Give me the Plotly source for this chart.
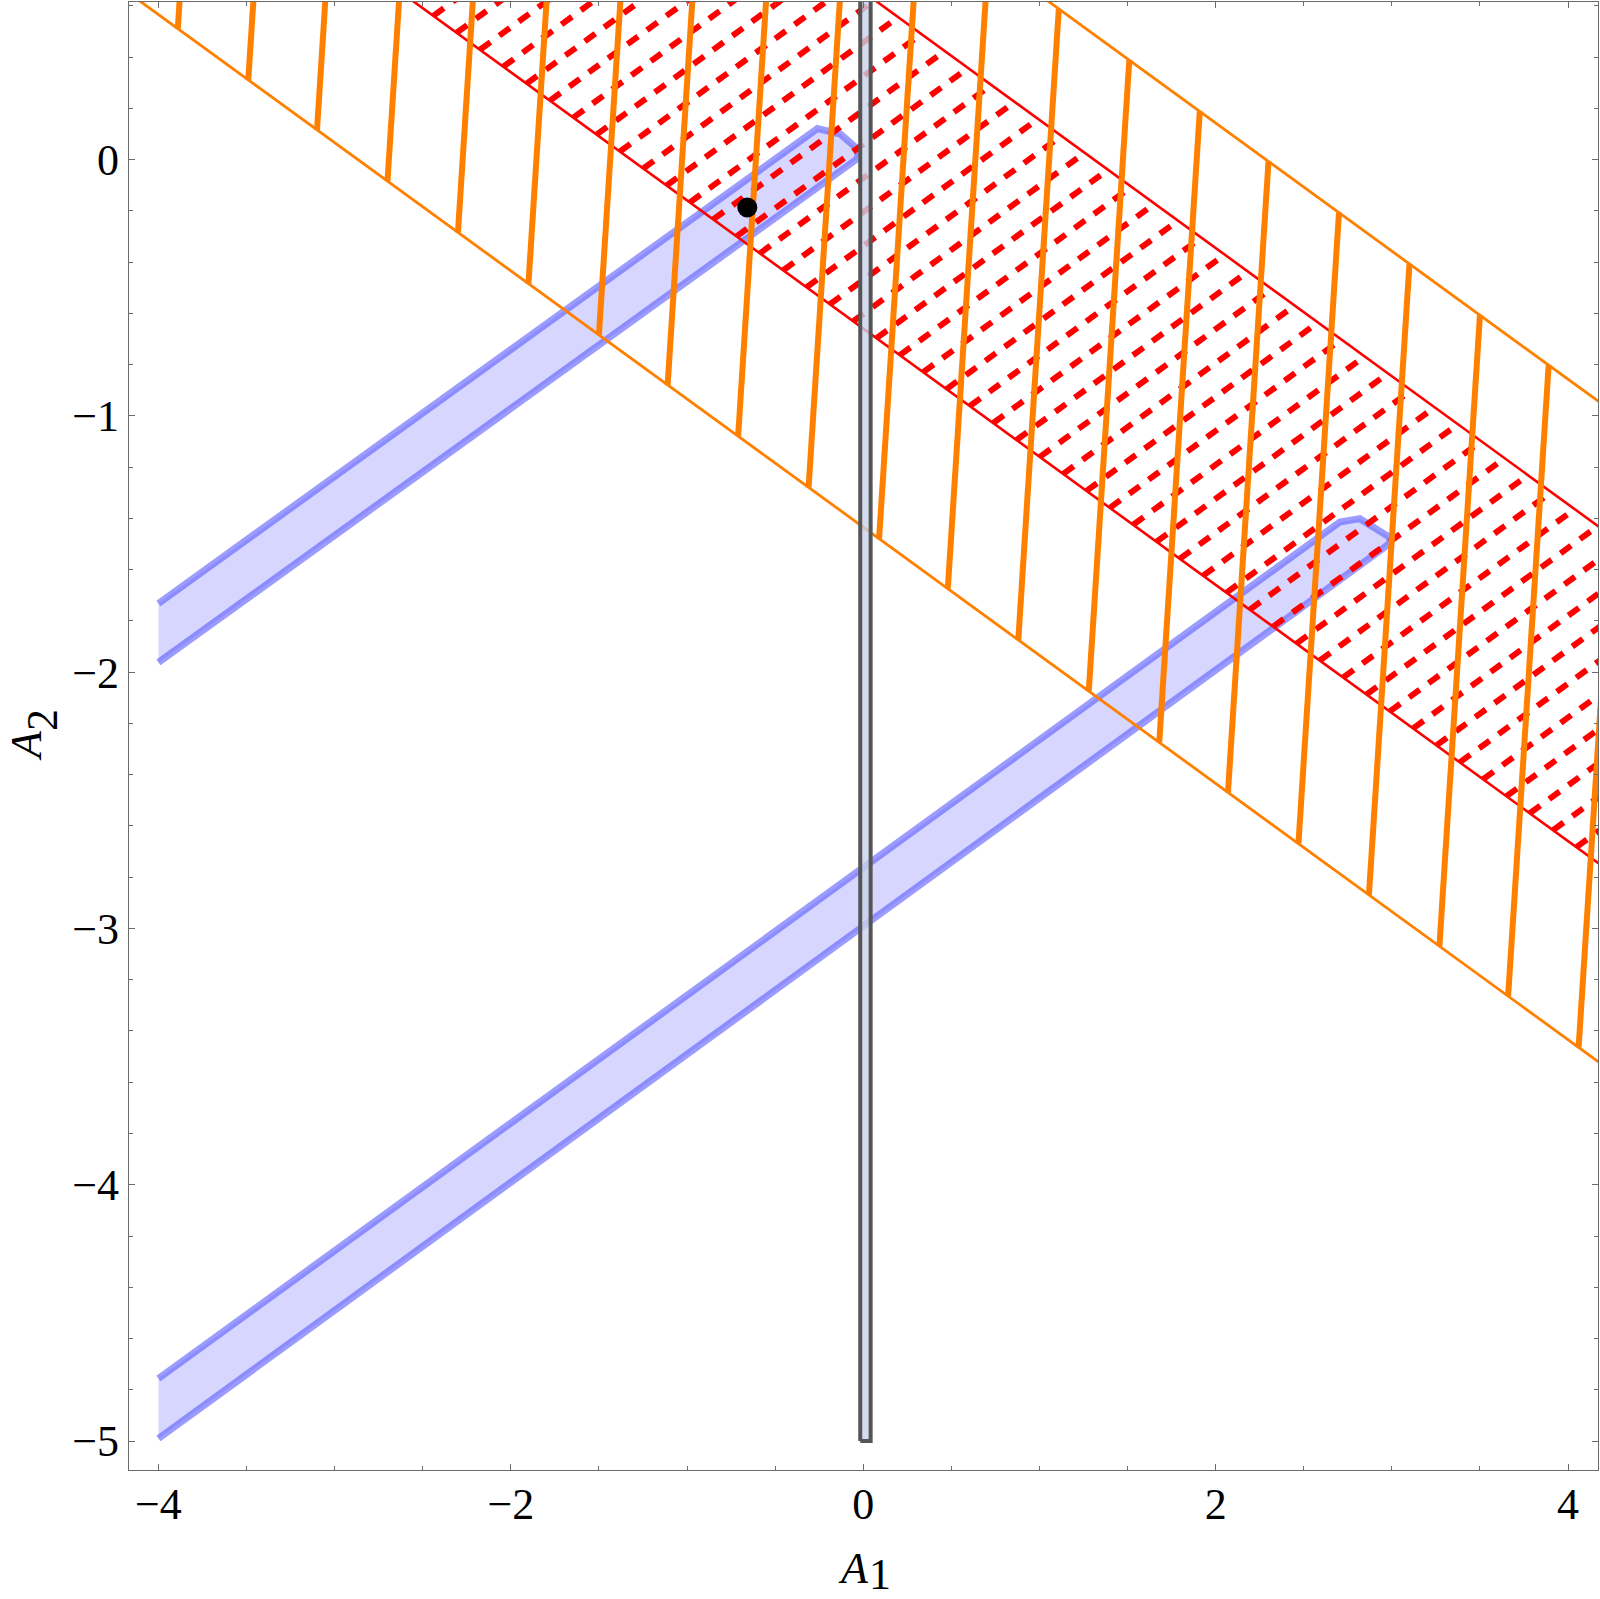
import numpy as np
import plotly.graph_objects as go

# plot window (A1 horizontal, A2 vertical)
a1_range = [-4.167, 4.170]
a2_range = [-5.113, 0.615]

# orange strip: edges are A2 = c + slope*A1
orange_slope = -0.5
orange_edge_c = [-1.434, 1.143]
# A1 where each orange hatch stroke leaves the lower edge, and how far it leans right
orange_hatch_a1 = [-3.89, -3.49, -3.10, -2.70, -2.30, -1.90, -1.50, -1.11,
                   -0.71, -0.31, 0.09, 0.48, 0.88, 1.28, 1.68, 2.07, 2.47,
                   2.87, 3.27, 3.66, 4.06]
orange_hatch_lean = 0.23

# red strip
red_slope = -0.5
red_edge_c = [-0.659, 0.655]
red_hatch_slope = 0.5
red_hatch_first = 1.929   # one hatch line meets the lower red edge here
red_hatch_step = 0.1324

# blue bands, outline
upper_band_a1 = [-4.0, -0.26, -0.13, -0.03, -0.03, -4.0]
upper_band_a2 = [-1.732, 0.121, 0.100, 0.040, 0.005, -1.962]
lower_band_a1 = [-4.0, 2.705, 2.818, 2.988, 2.988, 2.95, -4.0]
lower_band_a2 = [-4.756, -1.414, -1.401, -1.474, -1.497, -1.517, -4.990]

# grey strip along A1 = 0
bar_a1 = [-0.017, 0.042]
bar_a2 = [-5.0, 1.0]

# marked point
point_a1 = [-0.658]
point_a2 = [-0.187]

FONT = "Liberation Serif"
ORANGE = "rgb(255,128,0)"
RED = "rgb(255,0,0)"
FRAME = "#6b6b6b"
SIZE = 44


def edge(c, slope, a1):
    return c + slope * a1


fig = go.Figure()

# blue bands
for bx, by in [(upper_band_a1, upper_band_a2), (lower_band_a1, lower_band_a2)]:
    fig.add_trace(go.Scatter(x=bx + [bx[0]], y=by + [by[0]], mode="lines",
                             fill="toself", fillcolor="rgb(214,214,255)",
                             line=dict(width=0), hoverinfo="skip"))
    fig.add_trace(go.Scatter(x=bx, y=by, mode="lines",
                             line=dict(color="rgba(90,90,255,0.6)", width=7),
                             hoverinfo="skip"))

# red strip: dashed hatching, then the two edges
far = [-6, 6]
hx, hy = [], []
for k in np.arange(-36, 19):
    a = red_hatch_first + red_hatch_step * k
    y0 = edge(red_edge_c[0], red_slope, a)
    a_end = (red_edge_c[1] - y0 + red_hatch_slope * a) / (red_hatch_slope - red_slope)
    hx += [a, a_end, None]
    hy += [y0, edge(red_edge_c[1], red_slope, a_end), None]
fig.add_trace(go.Scatter(x=hx, y=hy, mode="lines",
                         line=dict(color=RED, width=6, dash="13px,11px"),
                         hoverinfo="skip"))
for c in red_edge_c:
    fig.add_trace(go.Scatter(x=far, y=[edge(c, red_slope, v) for v in far],
                             mode="lines", line=dict(color=RED, width=2.6),
                             hoverinfo="skip"))

# orange strip: edges and hatch strokes
for c in orange_edge_c:
    fig.add_trace(go.Scatter(x=far, y=[edge(c, orange_slope, v) for v in far],
                             mode="lines", line=dict(color=ORANGE, width=2.8),
                             hoverinfo="skip"))
ox, oy = [], []
for b in orange_hatch_a1:
    t = b + orange_hatch_lean
    ox += [b, t, None]
    oy += [edge(orange_edge_c[0], orange_slope, b), edge(orange_edge_c[1], orange_slope, t), None]
fig.add_trace(go.Scatter(x=ox, y=oy, mode="lines",
                         line=dict(color=ORANGE, width=6), hoverinfo="skip"))

# grey strip
fig.add_trace(go.Scatter(x=[bar_a1[0], bar_a1[1], bar_a1[1], bar_a1[0], bar_a1[0]],
                         y=[bar_a2[0], bar_a2[0], bar_a2[1], bar_a2[1], bar_a2[0]],
                         mode="lines", fill="toself",
                         fillcolor="rgba(200,210,234,0.8)",
                         line=dict(color="#555555", width=4), hoverinfo="skip"))

# point
fig.add_trace(go.Scatter(x=point_a1, y=point_a2, mode="markers",
                         marker=dict(color="black", size=20), hoverinfo="skip"))

axis_common = dict(showgrid=False, zeroline=False, showline=True,
                   linecolor=FRAME, linewidth=1.4, mirror="ticks",
                   ticks="inside", ticklen=6, tickwidth=1.3, tickcolor=FRAME,
                   tickfont=dict(family=FONT, size=SIZE, color="black"))
fig.update_xaxes(range=a1_range, tick0=0, dtick=2, ticklabelstandoff=-5,
                 minor=dict(ticks="inside", ticklen=3.5, tickwidth=1,
                            tickcolor=FRAME, dtick=0.5, tick0=0),
                 **axis_common)
fig.update_yaxes(range=a2_range, tick0=0, dtick=1, ticklabelstandoff=0,
                 minor=dict(ticks="inside", ticklen=3.5, tickwidth=1,
                            tickcolor=FRAME, dtick=0.2, tick0=0),
                 **axis_common)

# axis titles (A with subscript digit of nearly the same size)
lab = dict(xref="paper", yref="paper", showarrow=False,
           font=dict(family=FONT, size=SIZE, color="black"),
           xanchor="center", yanchor="middle")
fig.add_annotation(text="<i>A</i>", x=0.4929, y=-0.0674, **lab)
fig.add_annotation(text="1", x=0.5112, y=-0.0715, **lab)
fig.add_annotation(text="<i>A</i>", x=-0.0694, y=0.4932, textangle=-90, **lab)
fig.add_annotation(text="2", x=-0.0585, y=0.5110, textangle=-90, **lab)

fig.update_layout(width=1600, height=1599,
                  margin=dict(l=129, r=2, t=2, b=129),
                  plot_bgcolor="white", paper_bgcolor="white",
                  showlegend=False)

fig.write_html("out.html", config={"displayModeBar": False},
               post_script="document.body.style.margin='0';")
